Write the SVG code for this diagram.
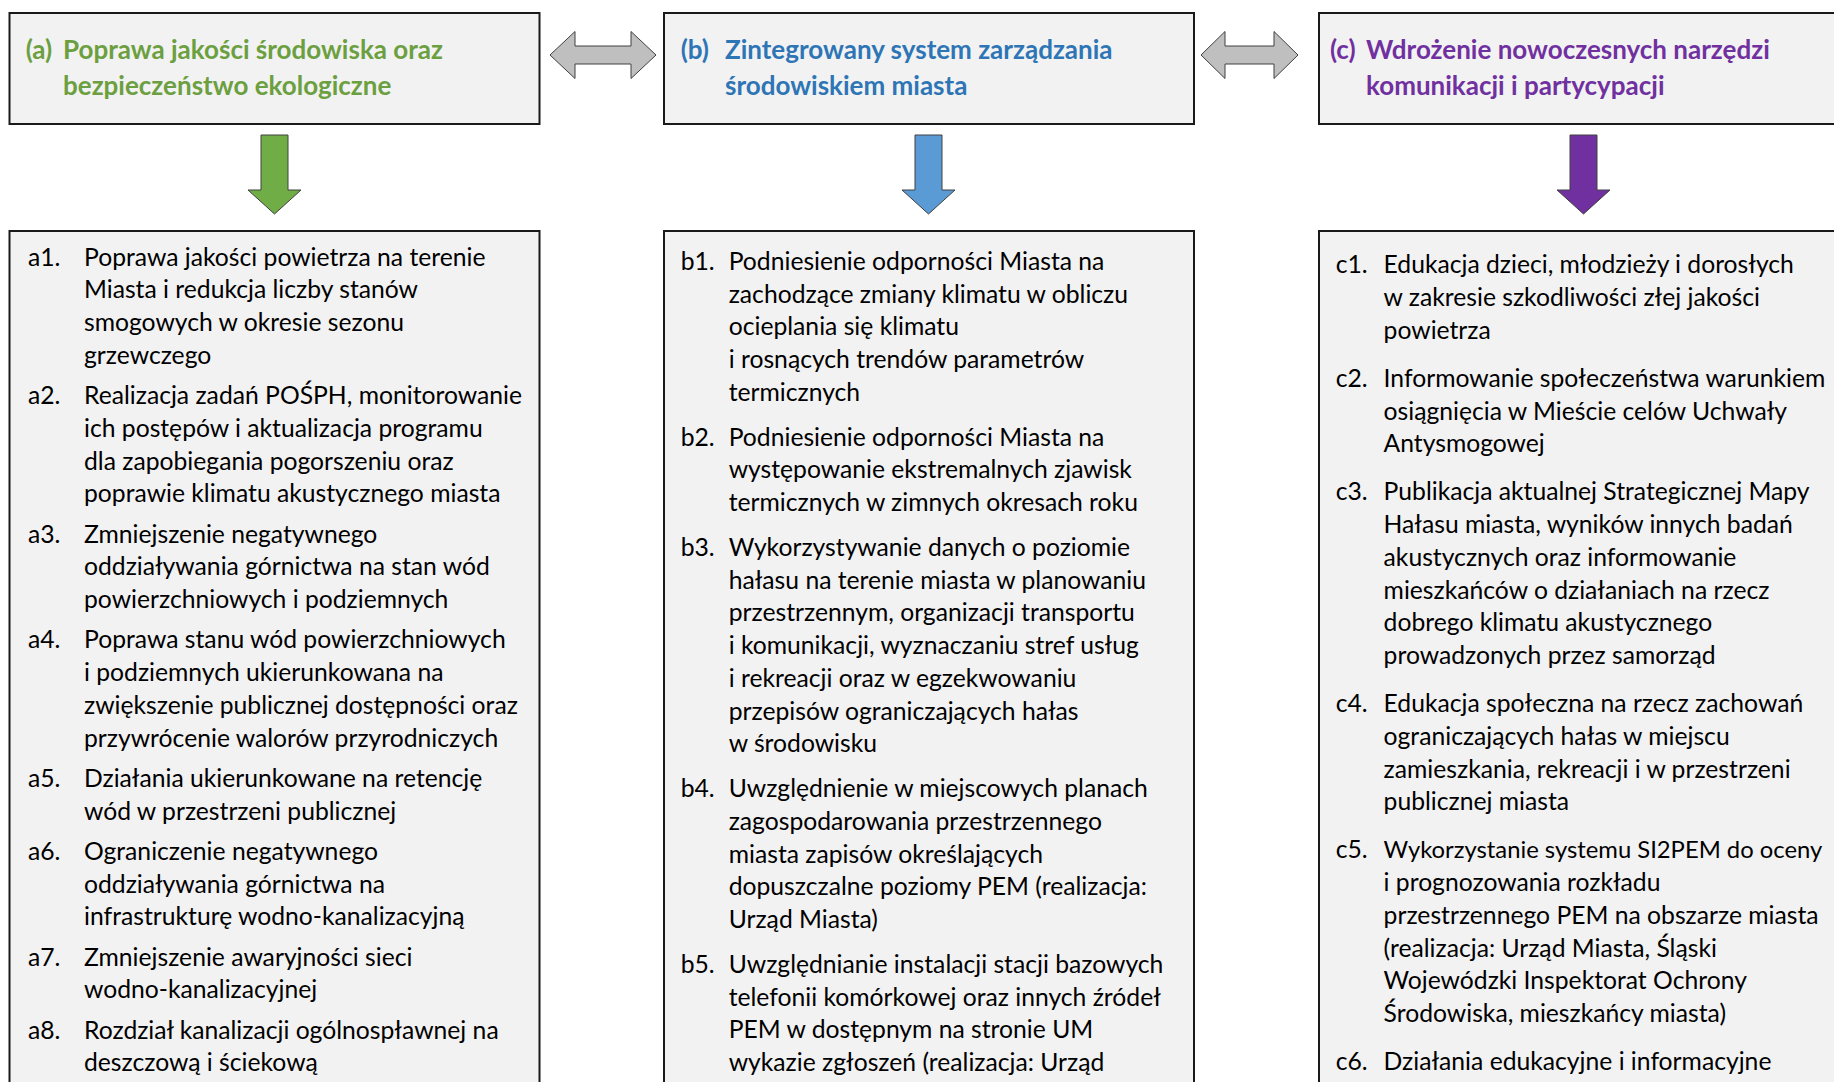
<svg xmlns="http://www.w3.org/2000/svg" width="1834" height="1082" viewBox="0 0 1834 1082">
<style>
.box{fill:#F2F2F2;stroke:#1a1a1a;stroke-width:2}
.t{font-family:Lato,"Liberation Sans",sans-serif;font-size:24.7px;fill:#000}
.h{font-family:Lato,"Liberation Sans",sans-serif;font-size:26px;font-weight:bold}
.ga{fill:#70AD47}.ba{fill:#5B9BD5}.pa{fill:#7030A0}
.arr{stroke:#404040;stroke-width:1}
.dbl{fill:#BFBFBF;stroke:#404040;stroke-width:1}
</style>
<rect width="1834" height="1082" fill="#FFFFFF"/>
<g id="header-a">
<rect class="box" x="9.5" y="13" width="530" height="111"/>
<text class="h" fill="#6B9F3F"><tspan x="25.7" y="58.5">(a)</tspan><tspan x="63" y="58.5">Poprawa jakości środowiska oraz</tspan><tspan x="63" y="95">bezpieczeństwo ekologiczne</tspan></text>
</g>
<g id="header-b">
<rect class="box" x="664" y="13" width="530" height="111"/>
<text class="h" fill="#2E75B6"><tspan x="680.7" y="58.5">(b)</tspan><tspan x="725" y="58.5">Zintegrowany system zarządzania</tspan><tspan x="725" y="95">środowiskiem miasta</tspan></text>
</g>
<g id="header-c">
<rect class="box" x="1319" y="13" width="530" height="111"/>
<text class="h" fill="#7030A0"><tspan x="1330" y="58.5">(c)</tspan><tspan x="1366" y="58.5">Wdrożenie nowoczesnych narzędzi</tspan><tspan x="1366" y="95">komunikacji i partycypacji</tspan></text>
</g>
<g id="connectors">
<polygon class="dbl" points="550,55 575,31.5 575,46 631,46 631,31.5 656,55 631,78.5 631,64 575,64 575,78.5"/>
<polygon class="dbl" points="1201,55 1225,31.5 1225,46 1274,46 1274,31.5 1298,55 1274,78.5 1274,64 1225,64 1225,78.5"/>
<polygon class="ga arr" points="261,135 288,135 288,190 301,190 274.5,214 248,190 261,190"/>
<polygon class="ba arr" points="915,135 942,135 942,190 955,190 928.5,214 902,190 915,190"/>
<polygon class="pa arr" points="1570,135 1597,135 1597,190 1610,190 1583.5,214 1557,190 1570,190"/>
</g>
<g id="list-a" transform="translate(0,3.5)">
<rect class="box" x="9.5" y="227.5" width="530" height="880"/>
<text class="t">
<tspan x="28" y="262">a1.</tspan><tspan x="84" y="262">Poprawa jakości powietrza na terenie</tspan>
<tspan x="84" y="294.75">Miasta i redukcja liczby stanów</tspan>
<tspan x="84" y="327.5">smogowych w okresie sezonu</tspan>
<tspan x="84" y="360.25">grzewczego</tspan>
<tspan x="28" y="400.5">a2.</tspan><tspan x="84" y="400.5">Realizacja zadań POŚPH, monitorowanie</tspan>
<tspan x="84" y="433.25">ich postępów i aktualizacja programu</tspan>
<tspan x="84" y="466">dla zapobiegania pogorszeniu oraz</tspan>
<tspan x="84" y="498.75">poprawie klimatu akustycznego miasta</tspan>
<tspan x="28" y="539">a3.</tspan><tspan x="84" y="539">Zmniejszenie negatywnego</tspan>
<tspan x="84" y="571.75">oddziaływania górnictwa na stan wód</tspan>
<tspan x="84" y="604.5">powierzchniowych i podziemnych</tspan>
<tspan x="28" y="644.75">a4.</tspan><tspan x="84" y="644.75">Poprawa stanu wód powierzchniowych</tspan>
<tspan x="84" y="677.5">i podziemnych ukierunkowana na</tspan>
<tspan x="84" y="710.25">zwiększenie publicznej dostępności oraz</tspan>
<tspan x="84" y="743">przywrócenie walorów przyrodniczych</tspan>
<tspan x="28" y="783.25">a5.</tspan><tspan x="84" y="783.25">Działania ukierunkowane na retencję</tspan>
<tspan x="84" y="816">wód w przestrzeni publicznej</tspan>
<tspan x="28" y="856.25">a6.</tspan><tspan x="84" y="856.25">Ograniczenie negatywnego</tspan>
<tspan x="84" y="889">oddziaływania górnictwa na</tspan>
<tspan x="84" y="921.75">infrastrukturę wodno-kanalizacyjną</tspan>
<tspan x="28" y="962">a7.</tspan><tspan x="84" y="962">Zmniejszenie awaryjności sieci</tspan>
<tspan x="84" y="994.75">wodno-kanalizacyjnej</tspan>
<tspan x="28" y="1035">a8.</tspan><tspan x="84" y="1035">Rozdział kanalizacji ogólnospławnej na</tspan>
<tspan x="84" y="1067.75">deszczową i ściekową</tspan>
</text>
</g>
<g id="list-b" transform="translate(0,3)">
<rect class="box" x="664" y="228" width="530" height="880"/>
<text class="t">
<tspan x="680.7" y="266.8">b1.</tspan><tspan x="728.7" y="266.8">Podniesienie odporności Miasta na</tspan>
<tspan x="728.7" y="299.55">zachodzące zmiany klimatu w obliczu</tspan>
<tspan x="728.7" y="332.3">ocieplania się klimatu</tspan>
<tspan x="728.7" y="365.05">i rosnących trendów parametrów</tspan>
<tspan x="728.7" y="397.8">termicznych</tspan>
<tspan x="680.7" y="442.55">b2.</tspan><tspan x="728.7" y="442.55">Podniesienie odporności Miasta na</tspan>
<tspan x="728.7" y="475.3">występowanie ekstremalnych zjawisk</tspan>
<tspan x="728.7" y="508.05">termicznych w zimnych okresach roku</tspan>
<tspan x="680.7" y="552.8">b3.</tspan><tspan x="728.7" y="552.8">Wykorzystywanie danych o poziomie</tspan>
<tspan x="728.7" y="585.55">hałasu na terenie miasta w planowaniu</tspan>
<tspan x="728.7" y="618.3">przestrzennym, organizacji transportu</tspan>
<tspan x="728.7" y="651.05">i komunikacji, wyznaczaniu stref usług</tspan>
<tspan x="728.7" y="683.8">i rekreacji oraz w egzekwowaniu</tspan>
<tspan x="728.7" y="716.55">przepisów ograniczających hałas</tspan>
<tspan x="728.7" y="749.3">w środowisku</tspan>
<tspan x="680.7" y="794.05">b4.</tspan><tspan x="728.7" y="794.05">Uwzględnienie w miejscowych planach</tspan>
<tspan x="728.7" y="826.8">zagospodarowania przestrzennego</tspan>
<tspan x="728.7" y="859.55">miasta zapisów określających</tspan>
<tspan x="728.7" y="892.3">dopuszczalne poziomy PEM (realizacja:</tspan>
<tspan x="728.7" y="925.05">Urząd Miasta)</tspan>
<tspan x="680.7" y="969.8">b5.</tspan><tspan x="728.7" y="969.8">Uwzględnianie instalacji stacji bazowych</tspan>
<tspan x="728.7" y="1002.55">telefonii komórkowej oraz innych źródeł</tspan>
<tspan x="728.7" y="1035.3">PEM w dostępnym na stronie UM</tspan>
<tspan x="728.7" y="1068.05">wykazie zgłoszeń (realizacja: Urząd</tspan>
</text>
</g>
<g id="list-c" transform="translate(0,3)">
<rect class="box" x="1319" y="228" width="530" height="880"/>
<text class="t">
<tspan x="1335.7" y="270.3">c1.</tspan><tspan x="1383.6" y="270.3">Edukacja dzieci, młodzieży i dorosłych</tspan>
<tspan x="1383.6" y="303.05">w zakresie szkodliwości złej jakości</tspan>
<tspan x="1383.6" y="335.8">powietrza</tspan>
<tspan x="1335.7" y="383.8">c2.</tspan><tspan x="1383.6" y="383.8">Informowanie społeczeństwa warunkiem</tspan>
<tspan x="1383.6" y="416.55">osiągnięcia w Mieście celów Uchwały</tspan>
<tspan x="1383.6" y="449.3">Antysmogowej</tspan>
<tspan x="1335.7" y="497.3">c3.</tspan><tspan x="1383.6" y="497.3">Publikacja aktualnej Strategicznej Mapy</tspan>
<tspan x="1383.6" y="530.05">Hałasu miasta, wyników innych badań</tspan>
<tspan x="1383.6" y="562.8">akustycznych oraz informowanie</tspan>
<tspan x="1383.6" y="595.55">mieszkańców o działaniach na rzecz</tspan>
<tspan x="1383.6" y="628.3">dobrego klimatu akustycznego</tspan>
<tspan x="1383.6" y="661.05">prowadzonych przez samorząd</tspan>
<tspan x="1335.7" y="709.05">c4.</tspan><tspan x="1383.6" y="709.05">Edukacja społeczna na rzecz zachowań</tspan>
<tspan x="1383.6" y="741.8">ograniczających hałas w miejscu</tspan>
<tspan x="1383.6" y="774.55">zamieszkania, rekreacji i w przestrzeni</tspan>
<tspan x="1383.6" y="807.3">publicznej miasta</tspan>
<tspan x="1335.7" y="855.3">c5.</tspan><tspan x="1383.6" y="855.3" font-size="23.8">Wykorzystanie systemu SI2PEM do oceny</tspan>
<tspan x="1383.6" y="888.05">i prognozowania rozkładu</tspan>
<tspan x="1383.6" y="920.8">przestrzennego PEM na obszarze miasta</tspan>
<tspan x="1383.6" y="953.55">(realizacja: Urząd Miasta, Śląski</tspan>
<tspan x="1383.6" y="986.3">Wojewódzki Inspektorat Ochrony</tspan>
<tspan x="1383.6" y="1019.05">Środowiska, mieszkańcy miasta)</tspan>
<tspan x="1335.7" y="1067.05">c6.</tspan><tspan x="1383.6" y="1067.05">Działania edukacyjne i informacyjne</tspan>
</text>
</g>
</svg>
